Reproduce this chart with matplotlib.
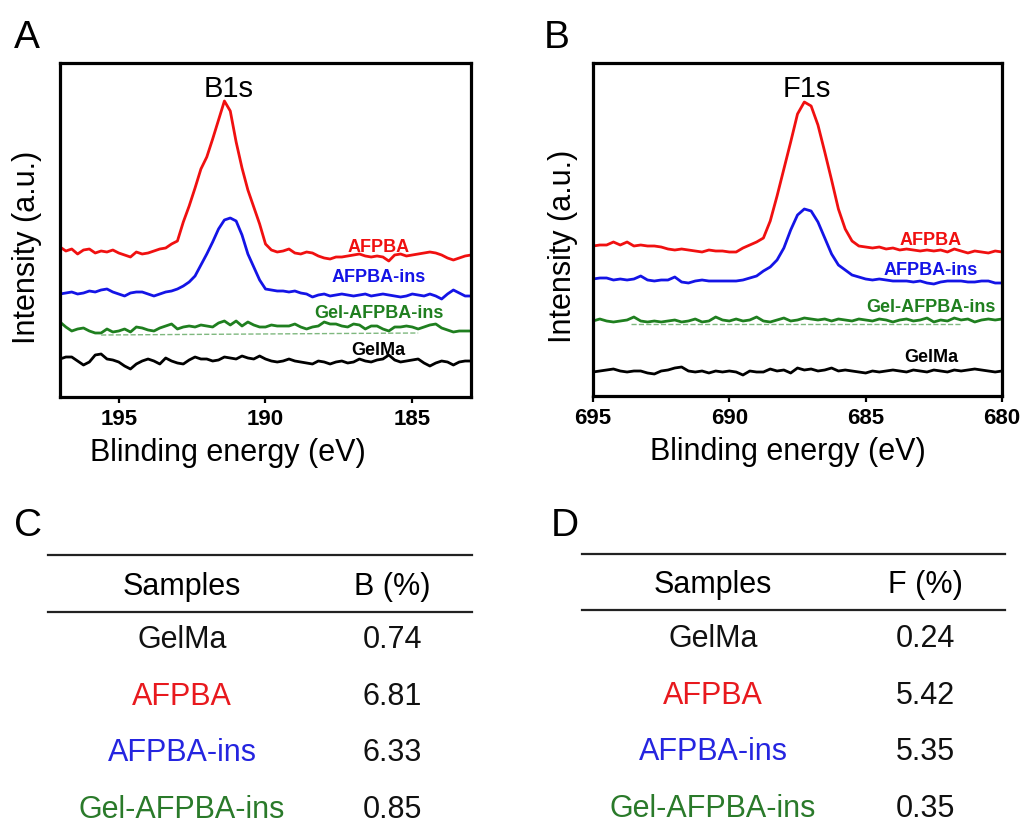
import numpy as np
import matplotlib
matplotlib.use("Agg")
import matplotlib.pyplot as plt
from matplotlib.lines import Line2D

plt.rcParams['font.family'] = ['Liberation Sans', 'DejaVu Sans']

# ---- data: B1s spectra (binding energy 197 -> 183 eV, step 0.2) ----
e_b1s = np.round(197.0 - 0.2 * np.arange(71), 2)
b1s_afpba = [150, 146, 148, 143, 147, 148, 144, 146, 145, 147,
             144, 142, 140, 145, 143, 144, 146, 148, 149, 153,
             156, 175, 191, 209, 228, 240, 258, 277, 296, 286,
             255, 229, 207, 190, 173, 153, 147, 145, 146, 148,
             144, 143, 145, 144, 141, 139, 138, 140, 140, 141,
             142, 143, 141, 140, 141, 140, 136, 142, 143, 141,
             142, 143, 144, 145, 144, 142, 139, 137, 139, 141,
             142]
b1s_afpba_ins = [103, 104, 105, 103, 104, 106, 105, 107, 108, 105,
                 103, 101, 104, 105, 105, 103, 101, 103, 105, 106,
                 108, 111, 115, 121, 132, 143, 155, 168, 177, 179,
                 176, 162, 143, 130, 117, 108, 107, 106, 106, 105,
                 106, 104, 103, 100, 102, 103, 101, 102, 103, 102,
                 101, 102, 103, 101, 102, 103, 102, 101, 100, 101,
                 103, 102, 101, 103, 101, 98, 103, 107, 104, 101,
                 101]
b1s_gel_afpba_ins = [75, 70, 66, 68, 69, 66, 64, 64, 68, 65,
                     66, 68, 65, 70, 69, 67, 66, 69, 71, 73,
                     68, 70, 71, 70, 72, 71, 70, 74, 76, 72,
                     76, 71, 75, 72, 70, 70, 72, 71, 71, 71,
                     73, 70, 68, 70, 71, 75, 73, 73, 71, 70,
                     73, 72, 68, 71, 71, 68, 66, 70, 70, 71,
                     70, 68, 70, 72, 73, 69, 67, 65, 66, 66,
                     66]
b1s_gelma = [38, 40, 40, 36, 32, 35, 42, 43, 38, 37,
             35, 31, 28, 33, 36, 38, 36, 33, 39, 36,
             34, 33, 37, 40, 38, 38, 36, 37, 40, 39,
             38, 41, 39, 38, 41, 38, 36, 35, 36, 38,
             36, 35, 34, 33, 36, 35, 33, 35, 36, 34,
             35, 38, 36, 35, 37, 38, 42, 37, 35, 36,
             37, 38, 34, 31, 34, 36, 35, 32, 35, 36,
             36]
b1s_base_e = [195.6, 184.8]
b1s_base_y = [62, 64]

# ---- data: F1s spectra (binding energy 695 -> 680 eV, step 0.25) ----
e_f1s = np.round(695.0 - 0.25 * np.arange(61), 2)
f1s_afpba = [150, 151, 151, 154, 151, 154, 150, 151, 150, 150,
             149, 147, 146, 147, 146, 145, 144, 146, 145, 145,
             144, 144, 148, 151, 154, 158, 175, 200, 227, 254,
             282, 294, 290, 271, 244, 216, 187, 167, 155, 150,
             149, 148, 149, 147, 148, 146, 147, 146, 145, 146,
             145, 146, 144, 147, 145, 143, 145, 144, 143, 145,
             144]
f1s_afpba_ins = [117, 118, 118, 116, 117, 116, 117, 120, 116, 115,
                 116, 116, 119, 114, 113, 115, 116, 115, 115, 115,
                 115, 115, 116, 118, 120, 125, 129, 136, 148, 166,
                 181, 187, 185, 174, 158, 142, 131, 126, 121, 119,
                 117, 116, 117, 116, 115, 115, 115, 114, 115, 113,
                 112, 114, 115, 115, 115, 114, 114, 115, 115, 113,
                 113]
f1s_gel_afpba_ins = [75, 77, 75, 74, 75, 76, 79, 75, 74, 75,
                     74, 75, 76, 74, 75, 77, 74, 75, 79, 76,
                     75, 77, 75, 76, 79, 75, 74, 76, 78, 75,
                     76, 78, 77, 76, 77, 75, 77, 76, 75, 77,
                     76, 75, 77, 76, 74, 76, 77, 75, 76, 78,
                     74, 76, 75, 78, 76, 77, 74, 76, 77, 76,
                     77]
f1s_gelma = [24, 25, 26, 27, 25, 24, 25, 25, 23, 22,
             25, 26, 28, 29, 25, 24, 25, 23, 25, 24,
             25, 24, 21, 25, 24, 24, 27, 25, 26, 23,
             28, 26, 27, 25, 26, 28, 25, 26, 25, 24,
             23, 25, 24, 25, 26, 25, 24, 26, 25, 24,
             26, 25, 24, 26, 25, 26, 27, 26, 25, 24,
             25]
f1s_base_e = [693.6, 681.5]
f1s_base_y = [72, 72]

# ---- tables ----
samples = ['GelMa', 'AFPBA', 'AFPBA-ins', 'Gel-AFPBA-ins']
b_percent = ['0.74', '6.81', '6.33', '0.85']
f_percent = ['0.24', '5.42', '5.35', '0.35']

c_red = '#f01010'
c_blue = '#1414e6'
c_green = '#1f7f1f'
c_black = '#000000'
series_colors = [c_black, c_red, c_blue, c_green]
table_colors = ['#111111', '#e8191e', '#2525e0', '#2a7a2a']

fig = plt.figure(figsize=(10.22, 8.37), dpi=100)
W, H = 1022.0, 837.0


def spectrum_axes(rect, energies, curves, base_e, base_y, xlim, ylim,
                  ticks, title, title_pos, label_x, label_ys, xlab_x, ylab_x):
    ax = fig.add_axes(rect)
    for y, col in zip(curves, series_colors):
        ax.plot(energies, y, color=col, lw=2.0)
    ax.plot(base_e, base_y, color='#7fb87f', lw=1.0, ls='--')
    ax.set_xlim(*xlim)
    ax.set_ylim(*ylim)
    ax.set_xticks(ticks)
    ax.set_xticklabels([str(t) for t in ticks], fontsize=16, fontweight='bold')
    ax.set_yticks([])
    ax.tick_params(axis='x', direction='out', length=4, width=1.6, pad=4)
    for sp in ax.spines.values():
        sp.set_linewidth(2.3)
    ax.text(title_pos[0], title_pos[1], title, fontsize=21, ha='center', va='baseline')
    for name, col, yy in zip(samples, series_colors, label_ys):
        ax.text(label_x, yy, name, color=col, fontsize=13, fontweight='bold',
                ha='center', va='baseline')
    ax.set_xlabel('Blinding energy (eV)', fontsize=22)
    ax.xaxis.set_label_coords(xlab_x, -0.12)
    ax.set_ylabel('Intensity (a.u.)', fontsize=22)
    ax.yaxis.set_label_coords(ylab_x, 0.452)
    return ax


spectrum_axes([60 / W, 1 - 398 / H, 411 / W, 334 / H], e_b1s,
              [b1s_gelma, b1s_afpba, b1s_afpba_ins, b1s_gel_afpba_ins],
              b1s_base_e, b1s_base_y, (197, 183), (0, 334), [195, 190, 185],
              'B1s', (191.25, 301), 186.15, [43, 146, 116, 80], 0.409, -0.044)

spectrum_axes([593 / W, 1 - 397 / H, 409 / W, 333 / H], e_f1s,
              [f1s_gelma, f1s_afpba, f1s_afpba_ins, f1s_gel_afpba_ins],
              f1s_base_e, f1s_base_y, (695, 680), (0, 333), [695, 690, 685, 680],
              'F1s', (687.15, 300), 682.6, [35, 152, 122, 85], 0.477, -0.037)

# panel letters
for letter, px, py in [('A', 27, 48), ('B', 557, 48), ('C', 28, 536), ('D', 565, 536)]:
    fig.text(px / W, 1 - py / H, letter, fontsize=28, ha='center', va='baseline')


def draw_table(x0, x1, top_line, mid_line, col1, col2, header_base, row_base,
               row_step, head2, values):
    for yl in (top_line, mid_line):
        fig.add_artist(Line2D([x0 / W, x1 / W], [1 - yl / H, 1 - yl / H],
                              transform=fig.transFigure, color='#222222', lw=1.6))
    fig.text(col1 / W, 1 - header_base / H, 'Samples', fontsize=22,
             ha='center', va='baseline')
    fig.text(col2 / W, 1 - header_base / H, head2, fontsize=22,
             ha='center', va='baseline')
    for i, (name, val, col) in enumerate(zip(samples, values, table_colors)):
        yb = row_base + i * row_step
        fig.text(col1 / W, 1 - yb / H, name, fontsize=22, color=col,
                 ha='center', va='baseline')
        fig.text(col2 / W, 1 - yb / H, val, fontsize=22, color='#111111',
                 ha='center', va='baseline')


draw_table(48, 472, 556, 613, 182, 392, 595, 648, 56.7, 'B (%)', b_percent)
draw_table(582, 1005, 555, 611, 713, 925, 593, 647, 56.7, 'F (%)', f_percent)

fig.savefig('out.png', dpi=100)
